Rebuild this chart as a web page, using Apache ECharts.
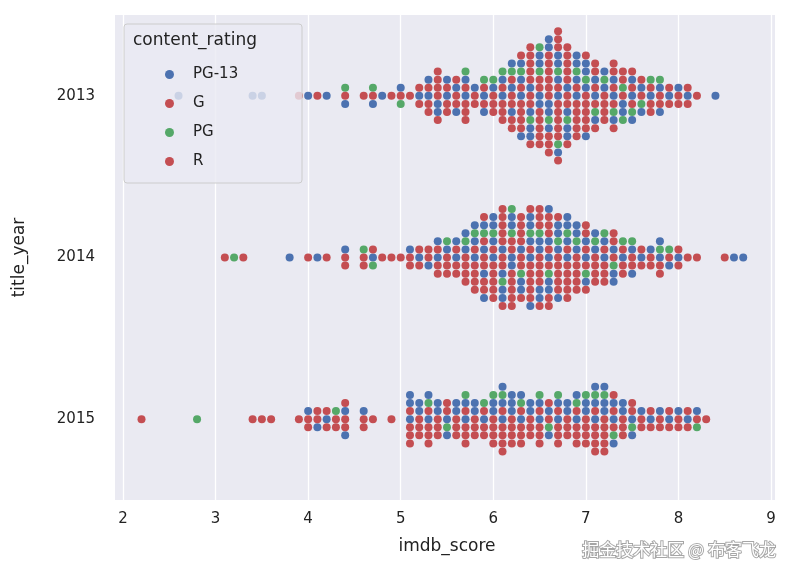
<!DOCTYPE html>
<html>
<head>
<meta charset="utf-8">
<script src="https://cdn.jsdelivr.net/npm/echarts@6/dist/echarts.min.js"></script>
<style>html,body{margin:0;background:#fff}#chart{width:791px;height:586px}</style>
</head>
<body>
<div id="chart"></div>
<script>
const years = ['2013', '2014', '2015'];
const ratings = ['PG-13', 'G', 'PG', 'R'];
const ratingCode = { T: 'PG-13', G: 'G', P: 'PG', R: 'R' };
const colors = { 'PG-13': '#4c72b0', 'G': '#c44e52', 'PG': '#55a868', 'R': '#c44e52' };

// imdb scores per year, with the rating of every film at that score (T=PG-13, G=G, P=PG, R=R)
const scores2013 = [2.6,3.4,3.5,3.9,4.0,4.1,4.2,4.4,4.6,4.7,4.8,4.9,5.0,5.1,5.2,5.3,5.4,5.5,5.6,5.7,5.8,5.9,6.0,6.1,6.2,6.3,6.4,6.5,6.6,6.7,6.8,6.9,7.0,7.1,7.2,7.3,7.4,7.5,7.6,7.7,7.8,7.9,8.0,8.1,8.2,8.4];
const films2013 = ['T','T','T','R','T','R','T','RPT','R','RPT','T','R','RTP','R','TRR','TRRTR','RRTRTGR','TRRTR','RTRRT','TRRTRPR','RTR','TRRPT','RTRPR','TRRTRPR','RTRRTPRTR','TRRTRPRTRRT','RTRRTRPRTRTRR','TRTRRPRTRTRPR','RRTRTRPRTRRTRTR','TRRTRPRTRTRRPRTRR','RTRRTRPRTRTRR','TRRTRPRTRTR','RTRPRTRTRRT','TRRTPRTRR','RTRPRTR','TRRTPRTRR','RPTRTRP','TRRTPRT','RTPRT','TRRPR','RTRPT','TRR','RTR','TRR','R','T'];

const scores2014 = [3.1,3.2,3.3,3.8,4.0,4.1,4.2,4.4,4.6,4.7,4.8,4.9,5.0,5.1,5.2,5.3,5.4,5.5,5.6,5.7,5.8,5.9,6.0,6.1,6.2,6.3,6.4,6.5,6.6,6.7,6.8,6.9,7.0,7.1,7.2,7.3,7.4,7.5,7.6,7.7,7.8,7.9,8.0,8.1,8.2,8.5,8.6,8.7];
const films2014 = ['R','P','R','T','R','T','R','RTR','RPR','TRP','R','R','R','RTR','TRR','RRT','TRRTR','RTRPR','TRRTR','RTRPRTR','TRRTRPRTR','RTRRTPRTRRT','TRRTRPRTRTR','RTRRTRPRTRTRR','TRTRRPRTRTRPR','RTRRPRTRTRR','TRRTRPRTRTRRT','RTRTRPRRTRTRR','TRRTPRTRTRRTR','RTRPRTRTRRT','TRRTRPRTRTR','RTRPRTRTR','TRRTPRTRR','RTRPRTR','TRRTRPR','RTPRTRT','TRRPR','RTRPT','TRR','RTR','TPRTR','RPT','TRR','R','R','R','T','T'];

const scores2015 = [2.2,2.8,3.4,3.5,3.6,3.9,4.0,4.1,4.2,4.3,4.4,4.6,4.7,4.9,5.1,5.2,5.3,5.4,5.5,5.6,5.7,5.8,5.9,6.0,6.1,6.2,6.3,6.4,6.5,6.6,6.7,6.8,6.9,7.0,7.1,7.2,7.3,7.4,7.5,7.6,7.7,7.8,7.9,8.0,8.1,8.2,8.3];
const films2015 = ['R','P','R','R','R','R','RTR','RRT','TRR','RPR','RTRRT','RTR','R','R','TRRTRTR','RTRTR','TRRPRTR','RTRTR','TRPRT','RTRTR','TRRTRPR','RTRTR','TRRPR','RTRTRPR','TRRTRPRTR','RTRTRTR','TRRPRTR','RTRTR','TRRTRPR','RTPRT','TRRTRPR','RTRTR','TRRPRTR','RTRTRPR','TRRTRPRTR','RTRTRPRTR','TRRTPRT','RTRTR','TRPRT','RTR','TRR','RTR','TRR','RTR','TRR','RTP','R'];

const yearData = [[scores2013, films2013], [scores2014, films2014], [scores2015, films2015]];
const step = 0.05; // vertical spacing of swarm points (in category units)

const points = {};
ratings.forEach(r => { points[r] = []; });
yearData.forEach(([scores, films], yi) => {
  scores.forEach((s, i) => {
    films[i].split('').forEach((c, k) => {
      const off = k === 0 ? 0 : (k % 2 ? -1 : 1) * Math.ceil(k / 2);
      points[ratingCode[c]].push([s, yi + off * step]);
    });
  });
});

const chart = echarts.init(document.getElementById('chart'));
const font = 'DejaVu Sans';
chart.setOption({
  animation: false,
  textStyle: { fontFamily: font },
  grid: { left: 123, right: 20, top: 15, bottom: 86 },
  xAxis: {
    type: 'value', min: 2, max: 9, interval: 1,
    name: 'imdb_score', nameLocation: 'middle', nameGap: 38,
    nameTextStyle: { fontSize: 17, color: '#222' },
    axisLine: { show: false }, axisTick: { show: false },
    axisLabel: { fontSize: 15, color: '#222', margin: 12 },
    splitLine: { lineStyle: { color: '#fff', width: 1.3 } }
  },
  yAxis: {
    type: 'value', min: -0.5, max: 2.5, inverse: true,
    name: 'title_year', nameLocation: 'middle', nameGap: 95, nameRotate: 90,
    nameTextStyle: { fontSize: 17, color: '#222' },
    axisLine: { show: false }, axisTick: { show: false },
    splitLine: { show: false },
    axisLabel: { fontSize: 15, color: '#222', margin: 28, customValues: [0, 1, 2], formatter: v => years[Math.round(v)] }
  },
  legend: {
    orient: 'vertical', left: 160, top: 62, itemGap: 14, z: 60,
    icon: 'circle', itemWidth: 9, itemHeight: 9,
    textStyle: { fontSize: 15, color: '#222', padding: [0, 0, 0, 14] },
    data: ratings
  },
  graphic: [
    { type: 'rect', z: -10, silent: true, shape: { x: 115, y: 15, width: 660, height: 485 }, style: { fill: '#eaeaf2' } },
    { type: 'rect', z: 50, silent: true, shape: { x: 124, y: 24, width: 178, height: 159, r: 3 }, style: { fill: 'rgba(234,234,242,0.8)', stroke: '#cccccc', lineWidth: 1 } },
    { type: 'text', z: 51, left: 133, top: 32, style: { text: 'content_rating', fontSize: 17, fill: '#222', fontFamily: font } },
    { type: 'text', z: 60, right: 14, top: 540, style: { text: '掘金技术社区 @ 布客飞龙', fontSize: 17, fill: '#fff', fontFamily: 'Noto Sans CJK SC', stroke: 'rgba(0,0,0,0.35)', lineWidth: 2 } }
  ],
  series: ratings.map(r => ({
    name: r, type: 'scatter', data: points[r], symbolSize: 8, z: 2,
    itemStyle: { color: colors[r], opacity: 1 }
  }))
});
</script>
</body>
</html>
